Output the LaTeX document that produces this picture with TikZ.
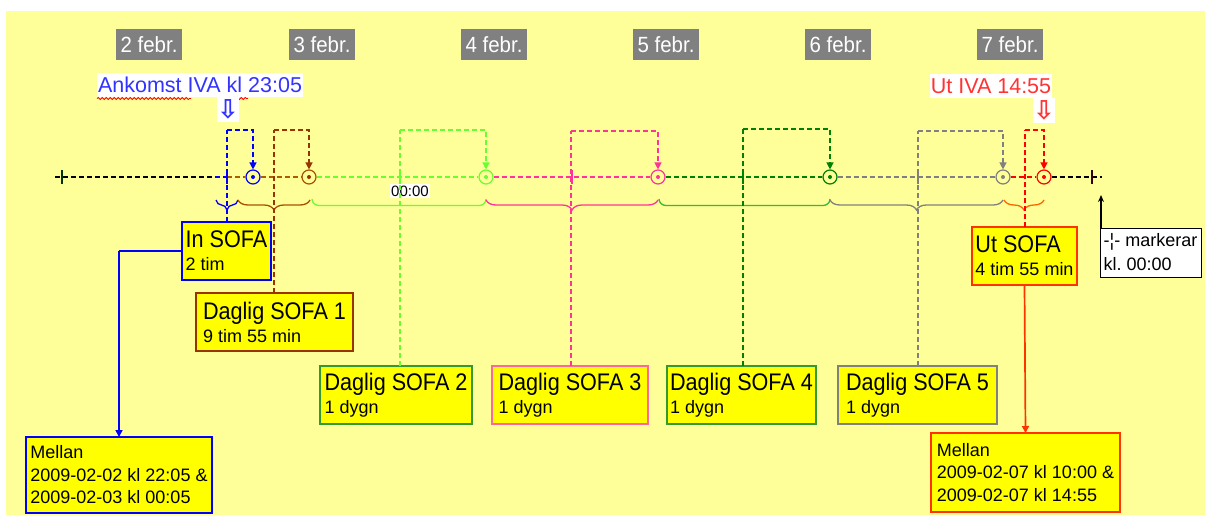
\documentclass[tikz,border=0pt]{standalone}
\usepackage{fontspec}
\setmainfont{Liberation Sans}
\newfontfamily\titlefont[FakeStretch=0.9]{Liberation Sans}
\newfontfamily\datefont[FakeStretch=0.93]{Liberation Sans}
\newfontfamily\symfont{DejaVu Sans}
\usetikzlibrary{arrows.meta,decorations.pathreplacing,decorations.pathmorphing}
\frenchspacing

\definecolor{bgyellow}{HTML}{FFFF99}
\definecolor{boxyellow}{HTML}{FFFF00}
\definecolor{dategrey}{HTML}{808080}
\definecolor{inblue}{HTML}{0000FF}
\definecolor{ankblue}{HTML}{3333FF}
\definecolor{sofabrown}{HTML}{993300}
\definecolor{lgreen}{HTML}{66FF33}
\definecolor{sofapink}{HTML}{FF3399}
\definecolor{boxpink}{HTML}{FF6699}
\definecolor{dgreen}{HTML}{008000}
\definecolor{boxgreen}{HTML}{339933}
\definecolor{bracegreen}{HTML}{33BB33}
\definecolor{sofagrey}{HTML}{808080}
\definecolor{utred}{HTML}{FF0000}
\definecolor{uttext}{HTML}{FF3333}
\definecolor{utorange}{HTML}{FF6600}
\definecolor{utborder}{HTML}{FF3300}

\newcommand{\hdline}[1]{{\titlefont\fontsize{24}{26}\selectfont #1}}

\tikzset{
  dsh/.style={dash pattern=on 5pt off 3pt, line width=1.4pt},
  tipdown/.style={-{Triangle[length=7pt,width=7pt]}},
  ring/.style={circle, draw, line width=1.2pt, minimum size=14pt, inner sep=0pt},
  infobox/.style={draw, fill=boxyellow, line width=1.5pt, anchor=north west,
    align=left, inner xsep=2pt, inner ysep=0pt, outer sep=0pt,
    font=\fontsize{18}{23}\selectfont},
  datelab/.style={fill=dategrey, text=white, minimum width=66pt,
    minimum height=31pt, inner sep=0pt, font=\datefont\fontsize{22}{24}\selectfont},
  ticker/.style={line width=1.4pt},
  brc/.style={decorate, decoration={brace, mirror, amplitude=10pt}, line width=1.3pt},
  flatbrc/.style={line width=1.3pt},
  whitelab/.style={fill=white, inner sep=1pt, font=\fontsize{21.5}{24}\selectfont},
  downarrow/.style={fill=white, inner sep=0pt, minimum width=20pt,
    minimum height=25pt, font=\symfont\bfseries\fontsize{26}{26}\selectfont},
  link/.style={line width=1.7pt, -{Triangle[length=7pt,width=7pt]}},
}

\begin{document}
\begin{tikzpicture}[x=1pt,y=-1pt]
\useasboundingbox (0,0) rectangle (1205,515);
\fill[bgyellow] (6,11) rectangle (1205,515);

% day headers
\node[datelab] (d2) at (149,44.5) {2 febr.};
\node[datelab] (d3) at (322,44.5) {3 febr.};
\node[datelab] (d4) at (494,44.5) {4 febr.};
\node[datelab] (d5) at (666,44.5) {5 febr.};
\node[datelab] (d6) at (838,44.5) {6 febr.};
\node[datelab] (d7) at (1010,44.5) {7 febr.};

% arrival and departure labels
\node[whitelab, text=ankblue, minimum height=24pt] (ank) at (200,85) {Ankomst IVA kl 23:05};
\draw[red, decorate, decoration={snake, amplitude=1pt, segment length=4pt}, line width=0.8pt]
  (97,98.5) -- (191,98.5);
\draw[red, decorate, decoration={snake, amplitude=1pt, segment length=4pt}, line width=0.8pt]
  (228,98.5) -- (248,98.5);
\node[downarrow, text=ankblue] (inarr) at (228,109.5) {⇩};

\node[whitelab, text=uttext, minimum height=24pt] (utiva) at (991,86) {Ut IVA 14:55};
\node[downarrow, text=uttext] (utarr) at (1044,110.5) {⇩};

% timeline reference points
\coordinate (tl0) at (55,177);
\coordinate (tk0) at (62,177);
\coordinate (tkb) at (215,177);
\coordinate (tk1) at (227,177);
\coordinate (tk2) at (400,177);
\coordinate (tk3) at (572,177);
\coordinate (tk4) at (743,177);
\coordinate (tk5) at (918,177);
\coordinate (tk6) at (1092,177);
\coordinate (tlend) at (1102,177);

% SOFA time points
\node[ring, draw=inblue] (c1) at (253,177) {};
\node[ring, draw=sofabrown!85!yellow] (c2) at (309,177) {};
\node[ring, draw=lgreen] (c3) at (486,177) {};
\node[ring, draw=sofapink] (c4) at (658,177) {};
\node[ring, draw=dgreen] (c5) at (830,177) {};
\node[ring, draw=sofagrey] (c6) at (1003,177) {};
\node[ring, draw=utred] (c7) at (1044,177) {};
\fill[inblue] (c1) circle[radius=2pt];
\fill[sofabrown] (c2) circle[radius=2pt];
\fill[lgreen] (c3) circle[radius=2pt];
\fill[sofapink] (c4) circle[radius=2pt];
\fill[dgreen] (c5) circle[radius=2pt];
\fill[sofagrey] (c6) circle[radius=2pt];
\fill[utred] (c7) circle[radius=2pt];

% timeline segments
\draw[dsh, black] (tl0) -- (tkb);
\draw[dsh, inblue] (tkb) -- (tk1);
\draw[dsh, sofabrown!80!yellow] (tk1) -- (c1.west);
\draw[dsh, sofabrown!80!yellow] (c1.east) -- (c2.west);
\draw[dsh, lgreen] (c2.east) -- (c3.west);
\draw[dsh, sofapink] (c3.east) -- (c4.west);
\draw[dsh, dgreen] (c4.east) -- (c5.west);
\draw[dsh, sofagrey] (c5.east) -- (c6.west);
\draw[dsh, utred] (c6.east) -- (c7.west);
\draw[dsh, black] (c7.east) -- (tlend);

% midnight ticks
\draw[ticker, black!80!green] ([yshift=7pt]tk0) -- ([yshift=-7pt]tk0);
\draw[ticker, inblue] ([yshift=7pt]tk1) -- ([yshift=-7pt]tk1);
\draw[ticker, lgreen] ([yshift=7pt]tk2) -- ([yshift=-7pt]tk2);
\draw[ticker, sofapink] ([yshift=7pt]tk3) -- ([yshift=-7pt]tk3);
\draw[ticker, dgreen] ([yshift=7pt]tk4) -- ([yshift=-7pt]tk4);
\draw[ticker, sofagrey] ([yshift=7pt]tk5) -- ([yshift=-7pt]tk5);
\draw[ticker, black!80!red] ([yshift=7pt]tk6) -- ([yshift=-7pt]tk6);

\node[fill=white, inner sep=1.5pt, font=\fontsize{15}{17}\selectfont] (midn) at (410,191) {00:00};

% braces under the timeline
\draw[brc, inblue] (216,200) -- (238,200);
\draw[brc, sofabrown!85!yellow] (238,200) -- (310,200);
\draw[flatbrc, lgreen] (312,199) to[out=-90,in=180] (319,205.5) -- (479,205.5) to[out=0,in=-90] (486,199);
\draw[brc, sofapink] (486,200) -- (658,200);
\draw[flatbrc, bracegreen] (659,199) to[out=-90,in=180] (666,205.5) -- (823,205.5) to[out=0,in=-90] (830,199);
\draw[brc, sofagrey] (830,200) -- (1003,200);
\draw[brc, utorange] (1004,200) -- (1044,200);

% SOFA boxes
\node[infobox, draw=inblue, minimum width=89pt, minimum height=58pt] (insofa) at (182,222)
  {\hdline{In SOFA}\\2 tim};
\node[infobox, draw=sofabrown, minimum width=157pt, minimum height=58pt] (sofa1) at (196,293)
  {\hdline{Daglig SOFA 1}\\9 tim 55 min};
\node[infobox, draw=boxgreen, minimum width=152pt, minimum height=58pt] (sofa2) at (320,366)
  {\hdline{Daglig SOFA 2}\\1 dygn};
\node[infobox, draw=boxpink, minimum width=156pt, minimum height=58pt] (sofa3) at (492,366)
  {\hdline{Daglig SOFA 3}\\1 dygn};
\node[infobox, draw=boxgreen, minimum width=149pt, minimum height=58pt] (sofa4) at (667,366)
  {\hdline{Daglig SOFA 4}\\1 dygn};
\node[infobox, draw=sofagrey, minimum width=159pt, minimum height=58pt] (sofa5) at (838,366)
  {\hdline{Daglig SOFA 5}\\1 dygn};
\node[infobox, draw=utborder, minimum width=105pt, minimum height=58pt] (utsofa) at (972,227)
  {\hdline{Ut SOFA}\\4 tim 55 min};

\node[infobox, draw=inblue, minimum width=186pt, minimum height=76pt,
  font=\fontsize{18}{22.5}\selectfont] (mellan1) at (26,437)
  {Mellan\\2009-02-02 kl 22:05 \&\\2009-02-03 kl 00:05};
\node[infobox, draw=utborder, minimum width=189pt, minimum height=79pt,
  font=\fontsize{18}{22.5}\selectfont] (mellan2) at (931,433)
  {Mellan\\2009-02-07 kl 10:00 \&\\2009-02-07 kl 14:55};

\node[infobox, fill=white, draw=black, line width=1pt, inner xsep=2pt,
  minimum width=101pt, minimum height=49pt, font=\fontsize{18}{24}\selectfont] (legend) at (1100,228)
  {-¦- markerar\\kl. 00:00};

% dashed brackets from each box up and over to its time point
\coordinate (k1) at (227,130);
\coordinate (k2) at (274,130);
\coordinate (k3) at (400,130);
\coordinate (k4) at (571,131);
\coordinate (k5) at (743,129);
\coordinate (k6) at (918,131);
\coordinate (k7) at (1025,130);

\draw[dsh, inblue] (insofa.north -| k1) -- (k1);
\draw[dsh, tipdown, inblue] (k1) -| (c1.north);
\draw[dsh, sofabrown] (sofa1.north -| k2) -- (k2);
\draw[dsh, tipdown, sofabrown] (k2) -| (c2.north);
\draw[dsh, lgreen] (sofa2.north -| k3) -- (k3);
\draw[dsh, tipdown, lgreen] (k3) -| (c3.north);
\draw[dsh, sofapink] (sofa3.north -| k4) -- (k4);
\draw[dsh, tipdown, sofapink] (k4) -| (c4.north);
\draw[dsh, dgreen] (sofa4.north -| k5) -- (k5);
\draw[dsh, tipdown, dgreen] (k5) -| (c5.north);
\draw[dsh, sofagrey] (sofa5.north -| k6) -- (k6);
\draw[dsh, tipdown, sofagrey] (k6) -| (c6.north);
\draw[dsh, utred] (utsofa.north -| k7) -- (k7);
\draw[dsh, tipdown, utred] (k7) -| (c7.north);

% links to the "Mellan" boxes and the legend pointer
\coordinate (bend1) at (mellan1.north |- insofa.west);
\draw[line width=1.7pt, inblue] (insofa.west) -- (bend1);
\draw[link, inblue] (bend1) -- (mellan1.north);
\draw[link, utborder] (utsofa.south) -- (mellan2.north);
\coordinate (legtip) at (1101,195);
\draw[line width=1.3pt, -{Stealth[length=7pt,width=6pt]}] (legend.north -| legtip) -- (legtip);

\end{tikzpicture}
\end{document}
